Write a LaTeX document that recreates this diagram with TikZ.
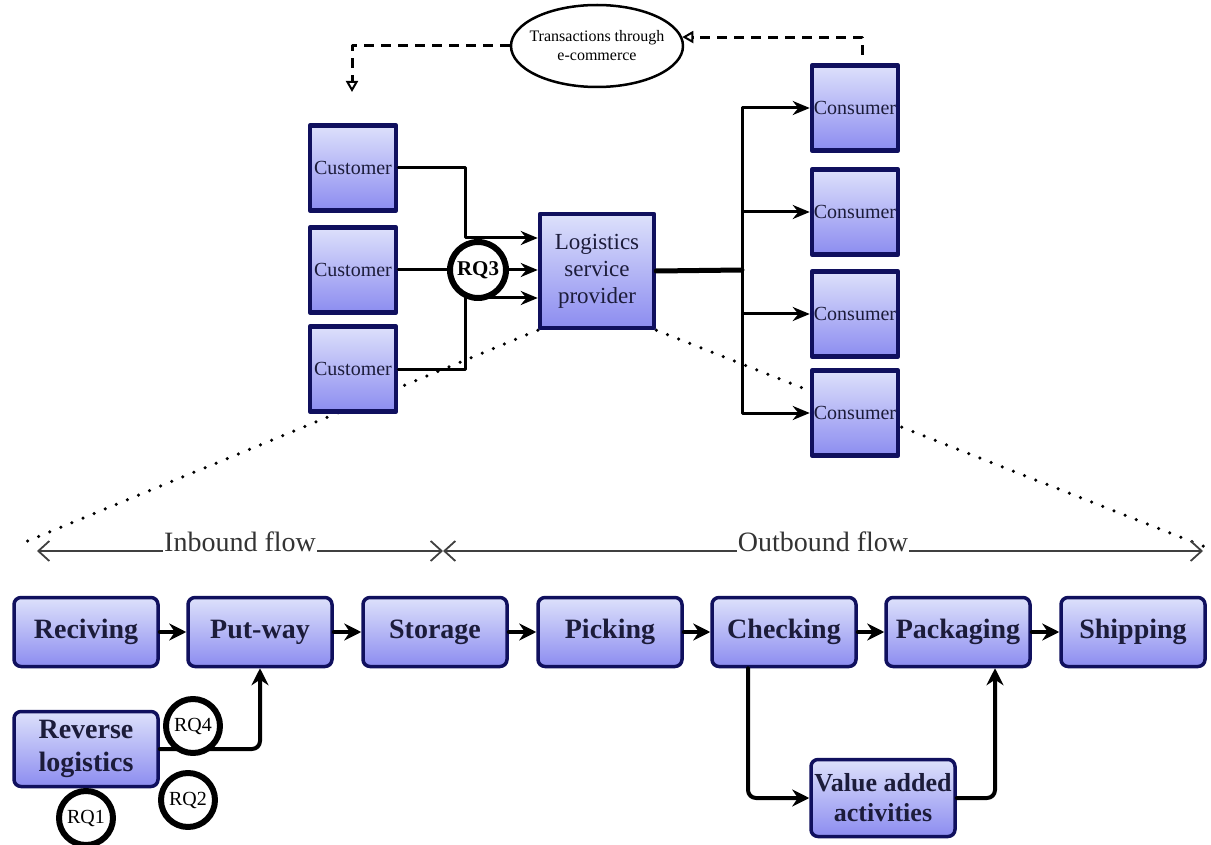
\documentclass[tikz,border=0pt]{standalone}
\usepackage{fontspec}
\setmainfont{Liberation Serif}
\usetikzlibrary{arrows.meta,positioning,shapes.geometric}
\definecolor{boxtop}{HTML}{DDE1FB}
\definecolor{boxbot}{HTML}{8C8CF0}
\definecolor{navy}{HTML}{10105E}
\definecolor{ink}{HTML}{1C1C3A}
\newcommand{\fsize}[2]{\fontsize{#1}{#2}\selectfont}
\pgfdeclarelayer{back}
\pgfsetlayers{back,main}
\begin{document}
\begin{tikzpicture}[x=1pt, y=-1pt, line cap=round, line join=round, >={Stealth[length=17pt,width=14pt]},
	party/.style={draw=navy, line width=4.5pt, top color=boxtop, bottom color=boxbot, minimum width=86pt, minimum height=85pt, inner sep=0pt, text=ink, font=\fsize{20}{22}},
	stage/.style={draw=navy, line width=3.5pt, rounded corners=7pt, top color=boxtop, bottom color=boxbot, minimum width=144pt, minimum height=69pt, inner sep=0pt, text=ink, font=\bfseries\fsize{28}{33}, align=center},
	rq/.style={circle, draw, line width=6pt, fill=white, minimum size=54pt, inner sep=0pt, font=\fsize{20}{22}},
	link/.style={line width=3pt, ->},
	bold link/.style={line width=4pt, -{Stealth[length=17pt,width=17pt]}},
	tie/.style={line width=3pt, dash pattern=on 10pt off 7pt, line cap=butt, -{Triangle[open,length=11pt,width=12pt,line width=2pt]}},
	zoomline/.style={line width=3.5pt, dash pattern=on 0pt off 12pt, line cap=round},
	span/.style={line width=1.8pt, draw=black!75, {Straight Barb[length=11pt,width=20pt]}-{Straight Barb[length=11pt,width=20pt]}},
	flowtext/.style={fill=white, inner sep=1pt, text=black!80, font=\fsize{28}{30}, anchor=base}]
	\useasboundingbox (0,0) rectangle (1211,845);

	\node[ellipse, draw, line width=2.5pt, minimum width=172pt, minimum height=82pt, inner xsep=-12pt, inner ysep=-4pt, align=center, font=\fsize{16}{19}] (ecom) at (597,46) {Transactions through\\e-commerce};
	\node[party] (cu1) at (353,168) {Customer};
	\node[party] (cu2) at (353,270) {Customer};
	\node[party] (cu3) at (353,369) {Customer};
	\node[party, minimum width=114pt, minimum height=114pt, align=center, font=\fsize{23}{27}] (lsp) at (597,271) {Logistics\\service\\provider};
	\foreach \i/\y in {1/108, 2/212, 3/314, 4/413}
		\node[party] (co\i) at (855,\y) {Consumer};

	\coordinate (tl) at (352,92);
	\coordinate (tr) at (862,55);
	\draw[tie] (ecom.west) -| (tl);
	\draw[tie] (tr) |- (ecom.6);

	\coordinate (ja) at (465,238);
	\coordinate (jb) at (465,298);
	\coordinate (rqc) at (478,270);
	\draw[link] (cu1.east) -| (ja) -- (ja -| lsp.west);
	\draw[link] (cu3.east) -| (jb) -- (jb -| lsp.west);
	\draw[line width=3pt] (cu2.east) -- (rqc);
	\node[rq, minimum size=56pt, font=\bfseries\fsize{21}{23}] (rq3) at (rqc) {RQ3};
	\draw[link] (rq3.east) -- (rq3 -| lsp.west);

	\coordinate (hub) at (742,270);
	\draw[line width=5pt] (lsp.east) -- (hub);
	\foreach \i in {1,...,4}
		\draw[link] (hub) |- (co\i.west);

	\coordinate (dl) at (18,545);
	\coordinate (dr) at (1208,548);
	\begin{pgfonlayer}{back}
		\draw[zoomline] (lsp.south west) -- (dl);
		\draw[zoomline] (lsp.south east) -- (dr);
	\end{pgfonlayer}

	\coordinate (fa) at (37,551);
	\coordinate (fb) at (443,551);
	\coordinate (fc) at (1203,551);
	\draw[span] (fa) -- (fb) node[flowtext, pos=0.5] {Inbound flow};
	\draw[span] (fb) -- (fc) node[flowtext, pos=0.5] {Outbound flow};

	\node[stage] (rec) at (86,632) {Reciving};
	\node[stage] (put) at (260,632) {Put-way};
	\node[stage] (sto) at (435,632) {Storage};
	\node[stage] (pic) at (610,632) {Picking};
	\node[stage] (chk) at (784,632) {Checking};
	\node[stage] (pak) at (958,632) {Packaging};
	\node[stage] (shp) at (1133,632) {Shipping};
	\node[stage, minimum height=75pt] (rev) at (86,749) {Reverse\\logistics};
	\node[stage, minimum height=77pt, font=\bfseries\fsize{26}{30}] (vaa) at (883,798) {Value added\\activities};

	\foreach \a/\b in {rec/put, put/sto, sto/pic, pic/chk, chk/pak, pak/shp}
		\draw[bold link] (\a) -- (\b);
	\draw[bold link, rounded corners=8pt] (rev.east) -| (put.south);
	\draw[bold link, rounded corners=8pt] ([xshift=-36pt]chk.south) |- (vaa.west);
	\draw[bold link, rounded corners=8pt] (vaa.east) -| ([xshift=37pt]pak.south);

	\node[rq] (rq4) at (193,726) {RQ4};
	\node[rq] (rq2) at (188,800) {RQ2};
	\node[rq] (rq1) at (86,818) {RQ1};
\end{tikzpicture}
\end{document}
